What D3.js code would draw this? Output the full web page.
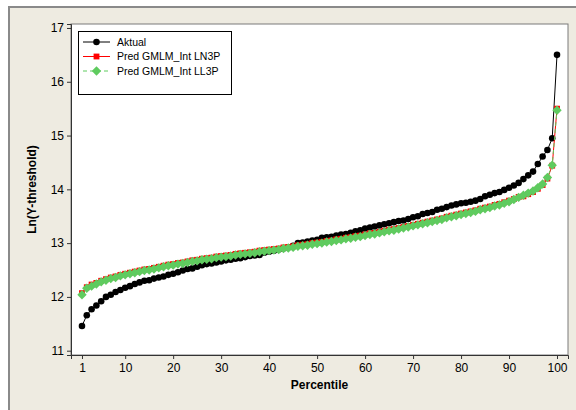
<!DOCTYPE html>
<meta charset="utf-8">
<style>
body { margin: 0; background: #fff; }
text { font-family: "Liberation Sans", Arial, sans-serif; }
</style>
<body>
<script src="https://cdn.jsdelivr.net/npm/d3@7"></script>
<script>

const width = 576;
const height = 410;

// percentile categories 1..100
const percentiles = [
   1,  2,  3,  4,  5,  6,  7,  8,  9, 10, 11, 12, 13, 14, 15, 16, 17, 18, 19, 20,
  21, 22, 23, 24, 25, 26, 27, 28, 29, 30, 31, 32, 33, 34, 35, 36, 37, 38, 39, 40,
  41, 42, 43, 44, 45, 46, 47, 48, 49, 50, 51, 52, 53, 54, 55, 56, 57, 58, 59, 60,
  61, 62, 63, 64, 65, 66, 67, 68, 69, 70, 71, 72, 73, 74, 75, 76, 77, 78, 79, 80,
  81, 82, 83, 84, 85, 86, 87, 88, 89, 90, 91, 92, 93, 94, 95, 96, 97, 98, 99, 100];

const aktual = [
  11.46, 11.66, 11.77, 11.84, 11.92, 12.00, 12.04, 12.09, 12.13, 12.17,
  12.20, 12.24, 12.27, 12.30, 12.31, 12.34, 12.36, 12.38, 12.41, 12.43,
  12.46, 12.49, 12.52, 12.53, 12.56, 12.59, 12.61, 12.62, 12.64, 12.66,
  12.68, 12.69, 12.71, 12.72, 12.74, 12.76, 12.77, 12.78, 12.82, 12.84,
  12.86, 12.88, 12.90, 12.92, 12.95, 13.00, 13.01, 13.03, 13.05, 13.06,
  13.10, 13.11, 13.12, 13.14, 13.16, 13.17, 13.19, 13.22, 13.24, 13.27,
  13.29, 13.31, 13.33, 13.35, 13.37, 13.39, 13.41, 13.42, 13.45, 13.48,
  13.50, 13.54, 13.56, 13.58, 13.62, 13.64, 13.67, 13.70, 13.72, 13.74,
  13.75, 13.77, 13.79, 13.82, 13.87, 13.90, 13.93, 13.95, 13.99, 14.03,
  14.07, 14.12, 14.19, 14.26, 14.33, 14.47, 14.61, 14.73, 14.95, 16.50];

const predLN3P = [
  12.07, 12.18, 12.23, 12.26, 12.30, 12.33, 12.36, 12.38, 12.41, 12.43,
  12.45, 12.47, 12.49, 12.51, 12.52, 12.54, 12.56, 12.58, 12.60, 12.61,
  12.63, 12.64, 12.66, 12.68, 12.69, 12.71, 12.72, 12.73, 12.75, 12.76,
  12.77, 12.78, 12.80, 12.81, 12.82, 12.83, 12.84, 12.86, 12.87, 12.88,
  12.89, 12.90, 12.92, 12.93, 12.94, 12.96, 12.97, 12.98, 13.00, 13.01,
  13.02, 13.04, 13.05, 13.07, 13.08, 13.10, 13.11, 13.13, 13.14, 13.16,
  13.18, 13.19, 13.21, 13.23, 13.25, 13.26, 13.28, 13.30, 13.32, 13.34,
  13.36, 13.38, 13.40, 13.42, 13.44, 13.46, 13.49, 13.51, 13.53, 13.55,
  13.57, 13.59, 13.61, 13.64, 13.66, 13.68, 13.71, 13.73, 13.76, 13.79,
  13.82, 13.86, 13.87, 13.91, 13.95, 14.01, 14.08, 14.20, 14.44, 15.50];

const predLL3P = [
  12.04, 12.16, 12.20, 12.24, 12.28, 12.31, 12.34, 12.36, 12.39, 12.41,
  12.43, 12.45, 12.47, 12.49, 12.50, 12.52, 12.54, 12.56, 12.58, 12.59,
  12.61, 12.62, 12.64, 12.66, 12.67, 12.69, 12.70, 12.71, 12.73, 12.74,
  12.75, 12.76, 12.78, 12.79, 12.80, 12.81, 12.82, 12.84, 12.85, 12.86,
  12.87, 12.88, 12.90, 12.91, 12.92, 12.94, 12.95, 12.96, 12.98, 12.99,
  13.00, 13.02, 13.03, 13.05, 13.06, 13.08, 13.09, 13.11, 13.12, 13.14,
  13.16, 13.17, 13.19, 13.21, 13.23, 13.24, 13.26, 13.28, 13.30, 13.32,
  13.34, 13.36, 13.38, 13.40, 13.42, 13.44, 13.47, 13.49, 13.51, 13.53,
  13.55, 13.57, 13.59, 13.62, 13.64, 13.66, 13.69, 13.71, 13.74, 13.77,
  13.81, 13.85, 13.89, 13.93, 13.97, 14.03, 14.10, 14.22, 14.45, 15.47];

const seriesNames = ["Aktual", "Pred GMLM_Int LN3P", "Pred GMLM_Int LL3P"];
const xTicks = [1, 10, 20, 30, 40, 50, 60, 70, 80, 90, 100];
const yTicks = [11, 12, 13, 14, 15, 16, 17];

const plot = {left: 71, right: 568, top: 24, bottom: 355};

const xScale = d3.scaleLinear()
    .domain([1 - 2.29, 100 + 2.29])
    .range([plot.left, plot.right]);

const yScale = d3.scaleLinear()
    .domain([10.92, 17.074])
    .range([plot.bottom, plot.top]);

const diamond = {
  draw(ctx, size) {
    const r = Math.sqrt(size / 2);
    ctx.moveTo(0, -r); ctx.lineTo(r, 0); ctx.lineTo(0, r); ctx.lineTo(-r, 0); ctx.closePath();
  }
};

const series = [
  {name: seriesNames[0], values: aktual,    color: "#000000", dash: null,  symbol: d3.symbolCircle, size: 34},
  {name: seriesNames[1], values: predLN3P,  color: "#ff0000", dash: null,  symbol: d3.symbolSquare, size: 34},
  {name: seriesNames[2], values: predLL3P,  color: "#5fcb5f", dash: "4,3", symbol: diamond,         size: 44}
];

const svg = d3.select("body").append("svg")
    .attr("width", width)
    .attr("height", height);

// figure background with its frame
svg.append("rect")
    .attr("x", 9).attr("y", 7)
    .attr("width", width).attr("height", height)
    .attr("fill", "#eeebe1")
    .attr("stroke", "#8a8a8a")
    .attr("stroke-width", 2);

svg.append("rect")
    .attr("x", plot.left).attr("y", plot.top)
    .attr("width", plot.right - plot.left).attr("height", plot.bottom - plot.top)
    .attr("fill", "#fff")
    .attr("stroke", "#7a7a7a");

const xAxis = d3.axisBottom(xScale).tickValues(xTicks).tickFormat(d3.format("d")).tickSize(4).tickPadding(4);
const yAxis = d3.axisLeft(yScale).tickValues(yTicks).tickFormat(d3.format("d")).tickSize(4).tickPadding(3);

const gx = svg.append("g")
    .attr("transform", `translate(0, ${plot.bottom})`)
    .call(xAxis);
const gy = svg.append("g")
    .attr("transform", `translate(${plot.left}, 0)`)
    .call(yAxis);

[gx, gy].forEach(g => {
  g.select(".domain").attr("stroke", "#333");
  g.selectAll(".tick line").attr("stroke", "#333");
  g.selectAll(".tick text")
      .attr("fill", "#000")
      .style("font-size", "12px")
      .style("font-family", "'Liberation Sans', Arial, sans-serif");
});

svg.append("text")
    .attr("x", xScale(50.5))
    .attr("y", 389)
    .attr("text-anchor", "middle")
    .style("font-size", "12px")
    .style("font-weight", "bold")
    .text("Percentile");

svg.append("text")
    .attr("transform", `translate(36, ${(plot.top + plot.bottom) / 2}) rotate(-90)`)
    .attr("text-anchor", "middle")
    .style("font-size", "12px")
    .style("font-weight", "bold")
    .text("Ln(Y-threshold)");

const line = d3.line()
    .x((d, i) => xScale(percentiles[i]))
    .y(d => yScale(d));

const groups = svg.selectAll(".series")
    .data(series)
  .enter().append("g")
    .attr("class", "series");

groups.append("path")
    .attr("d", d => line(d.values))
    .attr("fill", "none")
    .attr("stroke", d => d.color)
    .attr("stroke-width", 1)
    .attr("stroke-dasharray", d => d.dash);

groups.each(function(s) {
  d3.select(this).selectAll("path.pt")
      .data(s.values)
    .enter().append("path")
      .attr("class", "pt")
      .attr("transform", (d, i) => `translate(${xScale(percentiles[i])}, ${yScale(d)})`)
      .attr("d", d3.symbol(s.symbol, s.size))
      .attr("fill", s.color);
});

// legend
const legend = svg.append("g");
legend.append("rect")
    .attr("x", 78.5).attr("y", 31.5)
    .attr("width", 153).attr("height", 63)
    .attr("fill", "#fff")
    .attr("stroke", "#000");

const rows = legend.selectAll(".row")
    .data(series)
  .enter().append("g")
    .attr("transform", (d, i) => `translate(0, ${42 + i * 14.5})`);

rows.append("line")
    .attr("x1", 83).attr("x2", 110)
    .attr("stroke", d => d.color)
    .attr("stroke-dasharray", d => d.dash);

rows.append("path")
    .attr("transform", "translate(96.5, 0)")
    .attr("d", d => d3.symbol(d.symbol, d.size)())
    .attr("fill", d => d.color);

rows.append("text")
    .attr("x", 117)
    .attr("dy", "0.35em")
    .style("font-size", "10.5px")
    .text(d => d.name);

</script>
